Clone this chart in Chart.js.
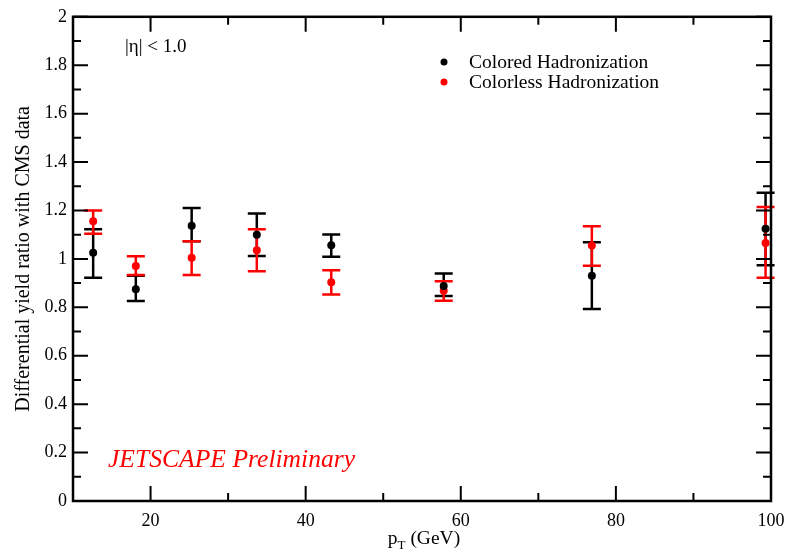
<!DOCTYPE html>
<html>
<head>
<meta charset="utf-8">
<script src="https://cdn.jsdelivr.net/npm/chart.js@4.4.1/dist/chart.umd.min.js"></script>
<style>
  html, body { margin: 0; padding: 0; background: #fff; }
  #wrap { width: 802px; height: 551px; }
</style>
</head>
<body>
<div id="wrap"><canvas id="c" width="802" height="551"></canvas></div>
<script>
// ---- data ----
const ptValues = [12.6, 18.1, 25.3, 33.7, 43.3, 57.8, 76.9, 99.3];

const coloredRatio = [1.025, 0.875, 1.137, 1.100, 1.056, 0.888, 0.930, 1.125];
const coloredLow   = [0.922, 0.826, 1.073, 1.012, 1.009, 0.847, 0.793, 0.974];
const coloredHigh  = [1.122, 0.930, 1.210, 1.188, 1.101, 0.940, 1.069, 1.273];

const colorlessRatio = [1.155, 0.971, 1.005, 1.036, 0.904, 0.868, 1.055, 1.066];
const colorlessLow   = [1.104, 0.933, 0.934, 0.949, 0.853, 0.827, 0.972, 0.922];
const colorlessHigh  = [1.200, 1.011, 1.073, 1.122, 0.953, 0.908, 1.135, 1.214];

const xTickLabels = [20, 40, 60, 80, 100];
const xMinorTicks = [20, 30, 40, 50, 60, 70, 80, 90];
const yTickLabels = [0, 0.2, 0.4, 0.6, 0.8, 1, 1.2, 1.4, 1.6, 1.8, 2];
const yMinorTicks = [0.1, 0.3, 0.5, 0.7, 0.9, 1.1, 1.3, 1.5, 1.7, 1.9];

const seriesLabels = ['Colored Hadronization', 'Colorless Hadronization'];
const seriesColors = ['#000000', '#ff0000'];

const SERIF = '"Liberation Serif", "DejaVu Serif", serif';

function pts(xs, ys, lo, hi) {
  return xs.map((x, i) => ({ x: x, y: ys[i], lo: lo[i], hi: hi[i] }));
}

const errorBars = {
  id: 'errorBars',
  beforeDatasetsDraw(chart) {
    const ctx = chart.ctx;
    const xs = chart.scales.x, ys = chart.scales.y;
    chart.data.datasets.forEach((ds) => {
      ctx.save();
      ctx.strokeStyle = ds.borderColor;
      ctx.lineWidth = 2.5;
      const cap = 9;
      ds.data.forEach((p) => {
        const px = xs.getPixelForValue(p.x);
        const pl = ys.getPixelForValue(p.lo);
        const ph = ys.getPixelForValue(p.hi);
        ctx.beginPath();
        ctx.moveTo(px, pl); ctx.lineTo(px, ph);
        ctx.moveTo(px - cap, pl); ctx.lineTo(px + cap, pl);
        ctx.moveTo(px - cap, ph); ctx.lineTo(px + cap, ph);
        ctx.stroke();
      });
      ctx.restore();
    });
  }
};

const frame = {
  id: 'frame',
  afterDraw(chart) {
    const ctx = chart.ctx;
    const a = chart.chartArea;
    const xs = chart.scales.x, ys = chart.scales.y;
    ctx.save();
    ctx.strokeStyle = '#000';
    ctx.lineWidth = 2.5;
    ctx.strokeRect(a.left, a.top, a.right - a.left, a.bottom - a.top);
    ctx.lineWidth = 2;
    ctx.beginPath();
    xMinorTicks.forEach((v) => {
      const px = xs.getPixelForValue(v);
      const len = (v % 20 === 0) ? 15 : 8;
      ctx.moveTo(px, a.bottom); ctx.lineTo(px, a.bottom - len);
      ctx.moveTo(px, a.top); ctx.lineTo(px, a.top + len);
    });
    yTickLabels.concat(yMinorTicks).forEach((v) => {
      const py = ys.getPixelForValue(v);
      const major = yTickLabels.indexOf(v) >= 0;
      const len = major ? 15 : 8;
      ctx.moveTo(a.left, py); ctx.lineTo(a.left + len, py);
      ctx.moveTo(a.right, py); ctx.lineTo(a.right - len, py);
    });
    ctx.stroke();

    // x axis title with subscript
    ctx.fillStyle = '#000';
    ctx.textBaseline = 'alphabetic';
    ctx.textAlign = 'left';
    const big = '19.5px ' + SERIF, small = '13px ' + SERIF;
    ctx.font = big; const wp = ctx.measureText('p').width;
    ctx.font = small; const wt = ctx.measureText('T').width;
    ctx.font = big; const wr = ctx.measureText(' (GeV)').width;
    const total = wp + wt + wr;
    let x0 = (a.left + a.right) / 2 - total / 2 + 2;
    const base = 544;
    ctx.font = big; ctx.fillText('p', x0, base);
    ctx.font = small; ctx.fillText('T', x0 + wp, base + 5);
    ctx.font = big; ctx.fillText(' (GeV)', x0 + wp + wt, base);

    // eta label
    ctx.font = '19px ' + SERIF;
    ctx.textBaseline = 'middle';
    ctx.fillText('|\u03b7| < 1.0', 125, 47);

    // preliminary label
    ctx.fillStyle = '#ff0000';
    ctx.font = 'italic 25.6px ' + SERIF;
    ctx.fillText('JETSCAPE Preliminary', 108, 460);

    // legend
    ctx.font = '19.5px ' + SERIF;
    chart.data.datasets.forEach((ds, i) => {
      const ly = 62 + i * 20;
      ctx.fillStyle = ds.borderColor;
      ctx.beginPath(); ctx.arc(444, ly, 3.5, 0, Math.PI * 2); ctx.fill();
      ctx.fillStyle = '#000';
      ctx.fillText(ds.label, 469, ly + 1);
    });
    ctx.restore();
  }
};

new Chart(document.getElementById('c'), {
  type: 'scatter',
  data: {
    datasets: [
      { label: seriesLabels[0], data: pts(ptValues, coloredRatio, coloredLow, coloredHigh),
        borderColor: seriesColors[0], backgroundColor: seriesColors[0], pointRadius: 4, pointBorderWidth: 0 },
      { label: seriesLabels[1], data: pts(ptValues, colorlessRatio, colorlessLow, colorlessHigh),
        borderColor: seriesColors[1], backgroundColor: seriesColors[1], pointRadius: 4, pointBorderWidth: 0 }
    ]
  },
  options: {
    responsive: false,
    animation: false,
    devicePixelRatio: 1,
    layout: { padding: { top: 14, right: 31, left: 0, bottom: 0 } },
    plugins: { legend: { display: false }, tooltip: { enabled: false } },
    scales: {
      x: {
        type: 'linear', min: 10, max: 100,
        afterBuildTicks(s) { s.ticks = xTickLabels.map(v => ({ value: v })); },
        afterFit(s) { s.height = 50; },
        grid: { display: false, drawTicks: false },
        border: { display: false },
        ticks: { padding: 9, color: '#000', font: { family: SERIF, size: 18 }, maxRotation: 0 }
      },
      y: {
        type: 'linear', min: 0, max: 2,
        afterBuildTicks(s) { s.ticks = yTickLabels.map(v => ({ value: v })); },
        afterFit(s) { s.width = 73; },
        grid: { display: false, drawTicks: false },
        border: { display: false },
        title: { display: true, text: 'Differential yield ratio with CMS data', color: '#000',
                 font: { family: SERIF, size: 20, lineHeight: 1.2 }, padding: { top: 12, bottom: 0 } },
        ticks: { padding: 6, color: '#000', font: { family: SERIF, size: 18 },
                 callback: (v) => String(v) }
      }
    }
  },
  plugins: [errorBars, frame]
});
</script>
</body>
</html>
